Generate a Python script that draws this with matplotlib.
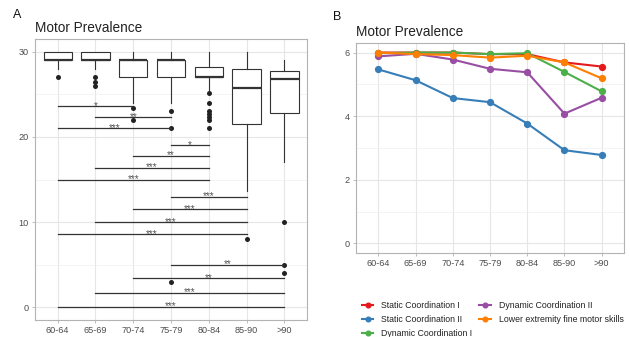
import matplotlib
matplotlib.use("Agg")
import matplotlib.pyplot as plt
from matplotlib.ticker import MultipleLocator
import numpy as np

plt.rcParams['font.family'] = ['Liberation Sans', 'DejaVu Sans']

# ---------------- data ----------------
age_groups = ["60-64", "65-69", "70-74", "75-79", "80-84", "85-90", ">90"]

# Panel A: boxplot statistics per age group
box_q1 = [29, 29, 27, 27, 27, 21.5, 22.8]
box_med = [29, 29, 29, 29, 27, 25.8, 26.8]
box_q3 = [30, 30, 29, 29, 28.2, 28, 27.8]
box_whislo = [28, 28, 24, 24, 25.5, 13.6, 17]
box_whishi = [30, 30, 30, 30, 30, 30, 29]
box_fliers = [
    [27],
    [27, 26.5, 26],
    [23.4, 22],
    [23, 21, 3],
    [25.1, 24, 23.1, 22.7, 22.3, 22, 21],
    [8],
    [10, 5, 4],
]

# significance brackets: (from group index, to group index, y, label)
sig_from = [1, 2, 1, 4, 3, 2, 1, 4, 3, 2, 1, 4, 3, 2, 1]
sig_to = [3, 4, 4, 5, 5, 5, 5, 6, 6, 6, 6, 7, 7, 7, 7]
sig_y = [23.6, 22.3, 21.0, 19.0, 17.8, 16.4, 15.0, 13.0, 11.5, 10.0, 8.55, 5.0, 3.4, 1.7, 0.05]
sig_labels = ["*", "**", "***", "*", "**", "***", "***", "***", "***", "***", "***",
              "**", "**", "***", "***"]

# Panel B: mean scores per domain
series_names = ["Static Coordination I", "Static Coordination II", "Dynamic Coordination I",
                "Dynamic Coordination II", "Lower extremity fine motor skills"]
static_coord_1 = [6.0, 6.0, 6.0, 5.95, 5.95, 5.69, 5.56]
static_coord_2 = [5.47, 5.13, 4.57, 4.44, 3.77, 2.93, 2.78]
dynamic_coord_1 = [5.98, 6.0, 6.0, 5.95, 5.98, 5.39, 4.78]
dynamic_coord_2 = [5.88, 5.96, 5.78, 5.49, 5.38, 4.08, 4.58]
lower_fine_motor = [6.0, 5.95, 5.92, 5.84, 5.90, 5.69, 5.19]
series_values = [static_coord_1, static_coord_2, dynamic_coord_1, dynamic_coord_2, lower_fine_motor]
series_colors = ["#E41A1C", "#377EB8", "#4DAF4A", "#984EA3", "#FF7F00"]

# ---------------- figure ----------------
W, H = 630, 337
fig = plt.figure(figsize=(W / 100, H / 100), dpi=100)

def px_axes(x0, y0, x1, y1):
    return fig.add_axes([x0 / W, 1 - y1 / H, (x1 - x0) / W, (y1 - y0) / H])

grid_major = "#E6E6E6"
grid_minor = "#F0F0F0"
border = "#B3B3B3"
tick_col = "#4D4D4D"

def style_axes(ax):
    ax.set_facecolor("white")
    for s in ax.spines.values():
        s.set_color(border)
        s.set_linewidth(0.8)
    ax.grid(which="major", color=grid_major, linewidth=0.8, zorder=0)
    ax.grid(which="minor", color=grid_minor, linewidth=0.5, zorder=0)
    ax.xaxis.grid(which="minor", visible=False)
    ax.set_axisbelow(True)
    ax.tick_params(which="major", length=2.5, width=0.6, color=border,
                   labelsize=6.6, labelcolor=tick_col, pad=2)
    ax.tick_params(which="minor", length=0)

# ---------- Panel A ----------
axA = px_axes(35, 39, 307, 320)
positions = np.arange(1, len(age_groups) + 1)
stats = []
for i in range(len(age_groups)):
    stats.append(dict(q1=box_q1[i], med=box_med[i], q3=box_q3[i],
                      whislo=box_whislo[i], whishi=box_whishi[i],
                      fliers=box_fliers[i], label=age_groups[i]))
axA.bxp(stats, positions=positions, widths=0.75, showcaps=False, patch_artist=True,
        boxprops=dict(facecolor="white", edgecolor="#333333", linewidth=0.8),
        whiskerprops=dict(color="#333333", linewidth=0.8),
        medianprops=dict(color="#333333", linewidth=1.6),
        flierprops=dict(marker="o", markerfacecolor="#222222", markeredgewidth=0,
                        markersize=3.6, linestyle="none"))

for f, t, y, lab in zip(sig_from, sig_to, sig_y, sig_labels):
    axA.plot([f, t], [y, y], color="#333333", linewidth=0.9, zorder=3)
    axA.text((f + t) / 2, y - 0.3, lab, ha="center", va="baseline", fontsize=7,
             color="#555555", zorder=4)

axA.set_xlim(0.4, 7.6)
axA.set_ylim(-1.5, 31.5)
axA.set_xticks(positions)
axA.set_xticklabels(age_groups)
axA.yaxis.set_major_locator(MultipleLocator(10))
axA.yaxis.set_minor_locator(MultipleLocator(5))
style_axes(axA)

fig.text(13 / W, 1 - 15 / H, "A", fontsize=9, ha="left", va="center", color="#111111")
fig.text(35 / W, 1 - 28 / H, "Motor Prevalence", fontsize=9.8, ha="left", va="center",
         color="#222222")

# ---------- Panel B ----------
axB = px_axes(356, 43, 624, 253)
handles = []
for name, vals, col in zip(series_names, series_values, series_colors):
    h, = axB.plot(positions, vals, color=col, linewidth=1.5, marker="o", markersize=4.2,
                  label=name, zorder=3)
    handles.append(h)
axB.set_xlim(0.4, 7.6)
axB.set_ylim(-0.3, 6.3)
axB.set_xticks(positions)
axB.set_xticklabels(age_groups)
axB.yaxis.set_major_locator(MultipleLocator(2))
axB.yaxis.set_minor_locator(MultipleLocator(1))
style_axes(axB)

fig.text(333 / W, 1 - 16.5 / H, "B", fontsize=9, ha="left", va="center", color="#111111")
fig.text(356 / W, 1 - 32 / H, "Motor Prevalence", fontsize=9.8, ha="left", va="center",
         color="#222222")

fig.legend(handles=handles, labels=series_names, ncol=2, loc="upper left",
           bbox_to_anchor=(362 / W, 1 - 301 / H), frameon=False, fontsize=6.3,
           handlelength=1.3, handletextpad=0.9, columnspacing=0.8, labelspacing=0.6,
           borderaxespad=0, borderpad=0, markerscale=0.8, labelcolor="#222222")

fig.savefig("out.png", dpi=100)
